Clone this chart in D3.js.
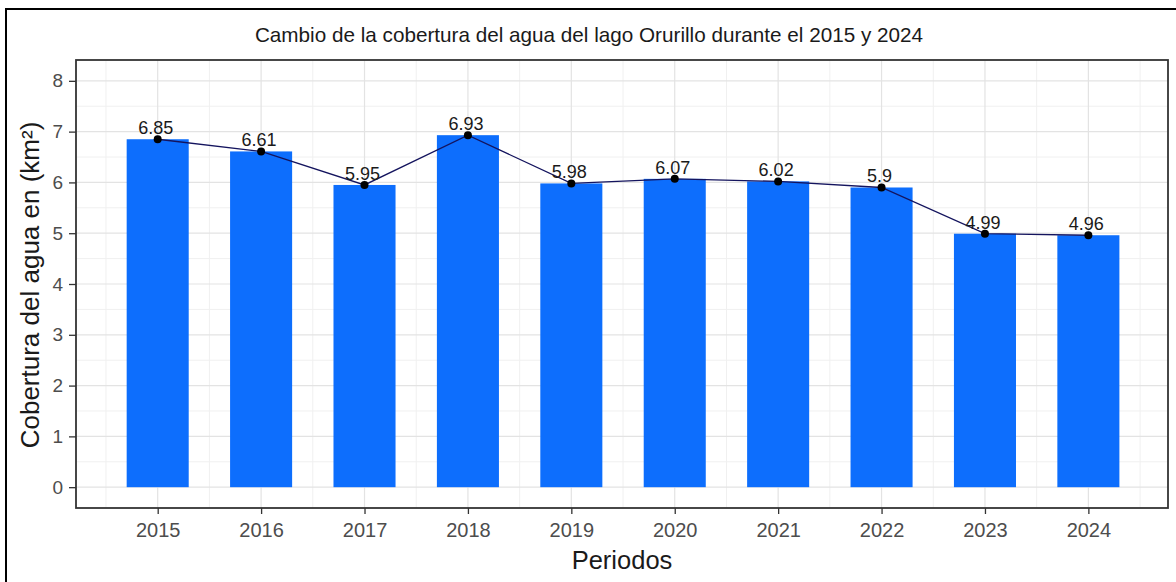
<!DOCTYPE html>
<html>
<head>
<meta charset="utf-8">
<script src="https://cdn.jsdelivr.net/npm/d3@7"></script>
<style>
html,body{margin:0;padding:0;background:#fff;}
svg{display:block;font-family:"Liberation Sans",Arial,sans-serif;}
</style>
</head>
<body>
<svg id="chart" width="1176" height="582"></svg>
<script>
const years = [2015, 2016, 2017, 2018, 2019, 2020, 2021, 2022, 2023, 2024];
const values = [6.85, 6.61, 5.95, 6.93, 5.98, 6.07, 6.02, 5.9, 4.99, 4.96];
const labels = ["6.85", "6.61", "5.95", "6.93", "5.98", "6.07", "6.02", "5.9", "4.99", "4.96"];
const yTicks = [0, 1, 2, 3, 4, 5, 6, 7, 8];
const yMinor = [-0.5, 0.5, 1.5, 2.5, 3.5, 4.5, 5.5, 6.5, 7.5];
const xMinor = [2014.5, 2015.5, 2016.5, 2017.5, 2018.5, 2019.5, 2020.5, 2021.5, 2022.5, 2023.5, 2024.5];
const title = "Cambio de la cobertura del agua del lago Orurillo durante el 2015 y 2024";
const xTitle = "Periodos";
const yTitle = "Cobertura del agua en (km²)";

const svg = d3.select("#chart");
const W = 1176, H = 582;
const P = {left: 76, right: 1168, top: 60, bottom: 508};

const x = d3.scaleLinear().domain([2014.21, 2024.77]).range([P.left, P.right]);
const y = d3.scaleLinear().domain([-0.41, 8.41]).range([P.bottom, P.top]);
const barW = x(2015.3) - x(2014.7);

// outer frame
svg.append("rect").attr("x", 6).attr("y", 9).attr("width", W + 10).attr("height", H + 10)
  .attr("fill", "none").attr("stroke", "#000").attr("stroke-width", 2);

// grid
const g = svg.append("g");
g.selectAll(".ymin").data(yMinor.filter(v => y(v) > P.top && y(v) < P.bottom)).join("line")
  .attr("x1", P.left).attr("x2", P.right).attr("y1", d => y(d)).attr("y2", d => y(d))
  .attr("stroke", "#F0F0F0").attr("stroke-width", 1);
g.selectAll(".xmin").data(xMinor).join("line")
  .attr("y1", P.top).attr("y2", P.bottom).attr("x1", d => x(d)).attr("x2", d => x(d))
  .attr("stroke", "#F0F0F0").attr("stroke-width", 1);
g.selectAll(".ymaj").data(yTicks).join("line")
  .attr("x1", P.left).attr("x2", P.right).attr("y1", d => y(d)).attr("y2", d => y(d))
  .attr("stroke", "#E3E3E3").attr("stroke-width", 1.2);
g.selectAll(".xmaj").data(years).join("line")
  .attr("y1", P.top).attr("y2", P.bottom).attr("x1", d => x(d)).attr("x2", d => x(d))
  .attr("stroke", "#E3E3E3").attr("stroke-width", 1.2);

// bars
svg.append("g").selectAll("rect").data(years).join("rect")
  .attr("x", (d) => x(d) - barW / 2)
  .attr("width", barW)
  .attr("y", (d, i) => y(values[i]))
  .attr("height", (d, i) => y(0) - y(values[i]))
  .attr("fill", "#0D6EFD");

// line
const line = d3.line().x((d) => x(d[0])).y((d) => y(d[1]));
svg.append("path").datum(years.map((yr, i) => [yr, values[i]]))
  .attr("d", line).attr("fill", "none").attr("stroke", "#14145e").attr("stroke-width", 1.3);

// points
svg.append("g").selectAll("circle").data(years).join("circle")
  .attr("cx", d => x(d)).attr("cy", (d, i) => y(values[i])).attr("r", 4).attr("fill", "#000");

// labels
svg.append("g").selectAll("text").data(years).join("text")
  .attr("x", d => x(d) - 2).attr("y", (d, i) => y(values[i]) - 5)
  .attr("text-anchor", "middle").attr("font-size", 18).attr("fill", "#1a1a1a")
  .text((d, i) => labels[i]);

// panel border
svg.append("rect").attr("x", P.left).attr("y", P.top)
  .attr("width", P.right - P.left).attr("height", P.bottom - P.top)
  .attr("fill", "none").attr("stroke", "#333").attr("stroke-width", 1.8);

// y axis
const yAxis = d3.axisLeft(y).tickValues(yTicks).tickSize(7).tickPadding(6).tickFormat(d3.format("d"));
const ya = svg.append("g").attr("transform", `translate(${P.left},0)`).call(yAxis);
ya.select(".domain").remove();
ya.selectAll(".tick line").attr("stroke", "#333").attr("stroke-width", 1.3);
ya.selectAll(".tick text").attr("font-size", 19).attr("fill", "#4D4D4D").attr("font-family", "Liberation Sans, Arial, sans-serif");

// x axis
const xAxis = d3.axisBottom(x).tickValues(years).tickSize(6).tickPadding(9).tickFormat(d3.format("d"));
const xa = svg.append("g").attr("transform", `translate(0,${P.bottom})`).call(xAxis);
xa.select(".domain").remove();
xa.selectAll(".tick line").attr("stroke", "#333").attr("stroke-width", 1.3);
xa.selectAll(".tick text").attr("font-size", 20).attr("fill", "#4D4D4D").attr("font-family", "Liberation Sans, Arial, sans-serif");

// titles
svg.append("text").attr("x", 589).attr("y", 42).attr("text-anchor", "middle")
  .attr("font-size", 20.7).attr("fill", "#1a1a1a").text(title);
svg.append("text").attr("x", 622).attr("y", 569).attr("text-anchor", "middle")
  .attr("font-size", 25.5).attr("fill", "#1a1a1a").text(xTitle);
svg.append("text").attr("transform", `translate(39,285) rotate(-90)`)
  .attr("text-anchor", "middle").attr("font-size", 26).attr("fill", "#1a1a1a").text(yTitle);
</script>
</body>
</html>
